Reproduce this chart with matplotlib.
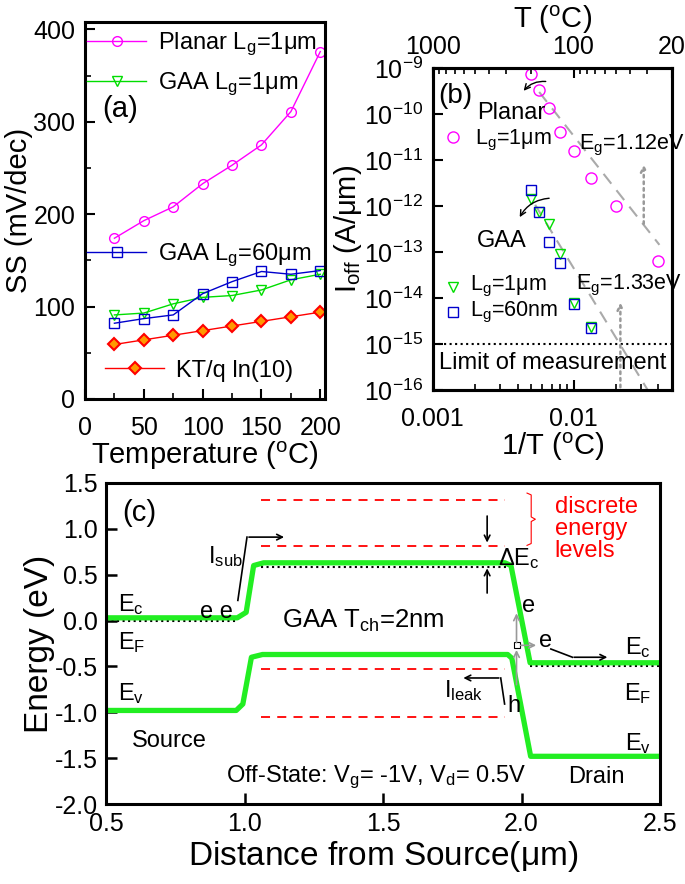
import numpy as np
import matplotlib
matplotlib.use('Agg')
from matplotlib import pyplot as plt

plt.rcParams['font.family'] = ['Liberation Sans', 'DejaVu Sans']
plt.rcParams['mathtext.fontset'] = 'custom'
plt.rcParams['mathtext.rm'] = 'Liberation Sans'
plt.rcParams['mathtext.it'] = 'Liberation Sans:italic'
plt.rcParams['mathtext.default'] = 'regular'
plt.rcParams['axes.linewidth'] = 2.2

# ---- (a) SS vs temperature ----
temp = [25, 50, 75, 100, 125, 150, 175, 200]
ss_planar = [174, 193, 208, 233, 253, 275, 311, 376]
ss_gaa_1um = [91, 93, 103, 110, 112, 118, 129, 135]
ss_gaa_60 = [82, 87, 91, 114, 127, 138, 135, 139]
ss_ideal = [59, 64, 69, 74, 79, 84, 89, 94]

# ---- (b) Ioff vs 1/T ----
inv_t_planar = [0.005, 0.0057, 0.0067, 0.008, 0.01, 0.0133, 0.02, 0.04]
ioff_planar = [7.5e-10, 3.3e-10, 1.35e-10, 4.2e-11, 1.6e-11, 4.1e-12, 1.0e-12, 6.5e-14]
inv_t_gaa = [0.005, 0.0057, 0.0067, 0.008, 0.01, 0.0133]
ioff_gaa_1um = [1.4e-12, 7.6e-13, 4.1e-13, 9.2e-14, 7.8e-15, 2.3e-15]
ioff_gaa_60 = [2.2e-12, 7.6e-13, 1.65e-13, 5.9e-14, 7.5e-15, 2.2e-15]
fit_planar_x = [0.0057, 0.0407]
fit_planar_y = [3.05e-10, 1.44e-13]
fit_gaa_x = [0.00534, 0.0336]
fit_gaa_y = [1.07e-12, 1e-16]
meas_limit = 1e-15
top_major_T = [1000, 100, 20]
top_minor_T = [900, 800, 700, 600, 500, 400, 300, 200, 90, 80, 70, 60, 50, 40, 30]

# ---- (c) band diagram ----
ec_x = [0.5, 0.974, 1.006, 1.033, 1.069, 1.94, 1.962, 2.031, 2.5]
ec_y = [0.03, 0.03, 0.09, 0.60, 0.63, 0.63, 0.60, -0.46, -0.46]
ev_x = [0.5, 0.97, 0.994, 1.025, 1.065, 1.95, 1.965, 2.033, 2.5]
ev_y = [-0.98, -0.98, -0.91, -0.40, -0.37, -0.37, -0.41, -1.48, -1.48]
ef_segments = [([0.5, 0.97], 0.0), ([1.06, 1.96], 0.58), ([2.03, 2.5], -0.50)]
levels = [1.31, 0.81, -0.53, -1.05]
levels_x = [1.06, 1.94]

fig = plt.figure(figsize=(6.85, 8.84), dpi=100)
W, H = 685.0, 884.0
def box(l, t, r, b):
    return [l / W, 1 - b / H, (r - l) / W, (b - t) / H]

tick_fs = 18
lab_fs = 21

# ================= (a)
ax1 = fig.add_axes(box(85, 22, 325, 399))
l1, = ax1.plot(temp, ss_planar, '-o', color='#ff00ff', lw=1, ms=7, mfc='none', mew=1)
l2, = ax1.plot(temp, ss_gaa_1um, '-v', color='#00dd00', lw=1, ms=7, mfc='none', mew=1)
l3, = ax1.plot(temp, ss_gaa_60, '-s', color='#0000cc', lw=1, ms=6.5, mfc='none', mew=1)
l4, = ax1.plot(temp, ss_ideal, '-D', color='#ff0000', lw=1, ms=6.5, mfc='#ff9900', mec='#ff0000', mew=1.5)
ax1.set_xlim(0, 204)
ax1.set_ylim(0, 408)
ax1.set_xticks([0, 50, 100, 150, 200])
ax1.set_xticks([25, 75, 125, 175], minor=True)
ax1.set_yticks([0, 100, 200, 300, 400])
ax1.set_yticks([50, 150, 250, 350], minor=True)
ax1.tick_params(direction='in', labelsize=tick_fs, length=7, width=1.5, top=False, right=False, pad=7)
ax1.tick_params(axis='x', pad=12)
ax1.tick_params(which='minor', direction='in', length=4, width=1.2)
ax1.set_xlabel('Temperature ($^{o}$C)', fontsize=lab_fs, labelpad=0)
ax1.set_ylabel('SS (mV/dec)', fontsize=lab_fs, labelpad=0)
leg_kw = dict(frameon=False, fontsize=17, handlelength=2.5, handletextpad=0.5,
              borderaxespad=0, borderpad=0, loc='center left')
lg1 = ax1.legend([l1, l2], ['Planar L$_g$=1$\\mu$m', 'GAA L$_g$=1$\\mu$m'],
                 bbox_to_anchor=(0.01, 0.888), labelspacing=0.55, **leg_kw)
ax1.add_artist(lg1)
lg2 = ax1.legend([l3], ['GAA L$_g$=60$\\mu$m'], bbox_to_anchor=(0.01, 0.38), **leg_kw)
ax1.add_artist(lg2)
ax1.legend([l4], ['KT/q ln(10)'], bbox_to_anchor=(0.085, 0.075), **leg_kw)
ax1.text(0.07, 0.77, '(a)', transform=ax1.transAxes, fontsize=21, va='center')

# ================= (b)
ax2 = fig.add_axes(box(432.7, 68.3, 672, 390))
ax2.set_xscale('log')
ax2.set_yscale('log')
ax2.plot(fit_planar_x, fit_planar_y, '--', color='#aaaaaa', lw=1.5, dashes=(6, 4))
ax2.plot(fit_gaa_x, fit_gaa_y, '--', color='#aaaaaa', lw=1.5, dashes=(6, 4))
ax2.plot(inv_t_planar, ioff_planar, 'o', color='#ff00ff', ms=8, mfc='none', mew=1)
ax2.plot(inv_t_gaa, ioff_gaa_1um, 'v', color='#00dd00', ms=7.5, mfc='none', mew=1)
ax2.plot(inv_t_gaa, ioff_gaa_60, 's', color='#0000cc', ms=7, mfc='none', mew=1)
ax2.axhline(meas_limit, color='black', ls=':', lw=1.5)
ax2.set_xlim(0.001, 0.05)
ax2.set_ylim(1e-16, 1e-9)
ax2.set_yticks([10.0 ** k for k in range(-16, -8)])
ax2.yaxis.set_minor_locator(matplotlib.ticker.NullLocator())
ax2.set_xticks([0.001, 0.01])
ax2.set_xticklabels(['0.001', '0.01'])
ax2.tick_params(direction='in', labelsize=tick_fs, length=7, width=1.5, right=False, top=False, pad=7)
ax2.tick_params(axis='x', pad=12)
ax2.tick_params(which='minor', direction='in', length=4, width=1.2)
ax2.xaxis.set_minor_formatter(matplotlib.ticker.NullFormatter())
ax2.set_xlabel('1/T ($^{o}$C)', fontsize=lab_fs, labelpad=0)
ax2.set_ylabel('I$_{off}$ (A/$\\mu$m)', fontsize=lab_fs, labelpad=0)

ax2t = ax2.twiny()
ax2t.set_xscale('log')
ax2t.set_xlim(ax2.get_xlim())
ax2t.set_xticks([1.0 / t for t in top_major_T])
ax2t.set_xticklabels([str(t) for t in top_major_T])
ax2t.set_xticks([1.0 / t for t in top_minor_T], minor=True)
ax2t.xaxis.set_minor_formatter(matplotlib.ticker.NullFormatter())
ax2t.tick_params(direction='in', labelsize=tick_fs, length=7, width=1.5, pad=7)
ax2t.tick_params(which='minor', direction='in', length=4, width=1.2)
ax2t.set_xlabel('T ($^{o}$C)', fontsize=lab_fs, labelpad=5)

gray = '#999999'
ax2.annotate('', xy=(0.0315, 9.3e-12), xytext=(0.0315, 3.6e-13),
             arrowprops=dict(arrowstyle='->', color=gray, ls=':', lw=1.8))
ax2.annotate('', xy=(0.0215, 9.2e-15), xytext=(0.0215, 1e-16),
             arrowprops=dict(arrowstyle='->', color=gray, ls=':', lw=1.8))
ax2.annotate('', xy=(0.0043, 2.9e-10), xytext=(0.00664, 5.1e-10),
             arrowprops=dict(arrowstyle='->', color='black', lw=1, connectionstyle='arc3,rad=0.3'))
ax2.annotate('', xy=(0.00406, 5.1e-13), xytext=(0.00702, 1.5e-12),
             arrowprops=dict(arrowstyle='->', color='black', lw=1, connectionstyle='arc3,rad=0.3'))
bfs = 17
sfs = 15.5
tr = ax2.transAxes
ax2.text(0.025, 0.915, '(b)', transform=tr, fontsize=20, va='center')
ax2.text(0.185, 0.862, 'Planar', transform=tr, fontsize=bfs, va='center')
ax2.plot([0.085], [0.787], 'o', color='#ff00ff', ms=8, mfc='none', mew=1, transform=tr)
ax2.text(0.177, 0.775, 'L$_g$=1$\\mu$m', transform=tr, fontsize=sfs, va='center')
ax2.text(0.61, 0.761, 'E$_g$=1.12eV', transform=tr, fontsize=15.5, va='center')
ax2.text(0.185, 0.463, 'GAA', transform=tr, fontsize=bfs, va='center')
ax2.plot([0.086], [0.319], 'v', color='#00dd00', ms=7.5, mfc='none', mew=1, transform=tr)
ax2.text(0.156, 0.322, 'L$_g$=1$\\mu$m', transform=tr, fontsize=sfs, va='center')
ax2.plot([0.086], [0.243], 's', color='#0000cc', ms=7, mfc='none', mew=1, transform=tr)
ax2.text(0.156, 0.24, 'L$_g$=60nm', transform=tr, fontsize=sfs, va='center')
ax2.text(0.6, 0.326, 'E$_g$=1.33eV', transform=tr, fontsize=15.5, va='center')
ax2.text(0.5, 0.084, 'Limit of measurement', transform=tr, fontsize=bfs, va='center', ha='center')

# ================= (c)
ax3 = fig.add_axes(box(106, 483, 660, 804))
for ys in levels:
    ax3.plot(levels_x, [ys, ys], '--', color='#ff0000', lw=1.3, dashes=(5, 4))
for xs, yv in ef_segments:
    ax3.plot(xs, [yv, yv], ':', color='black', lw=1.5)
ax3.plot(ec_x, ec_y, '-', color='#22ee22', lw=3.8, solid_joinstyle='round')
ax3.plot(ev_x, ev_y, '-', color='#22ee22', lw=3.8, solid_joinstyle='round')
ax3.set_xlim(0.5, 2.5)
ax3.set_ylim(-2.0, 1.5)
ax3.set_xticks([0.5, 1.0, 1.5, 2.0, 2.5])
ax3.set_yticks([-2.0, -1.5, -1.0, -0.5, 0.0, 0.5, 1.0, 1.5])
ax3.yaxis.set_major_formatter(matplotlib.ticker.FormatStrFormatter('%.1f'))
ax3.tick_params(direction='in', labelsize=tick_fs, length=8, width=1.8, top=False, right=False, pad=6)
ax3.set_xlabel('Distance from Source($\\mu$m)', fontsize=24, labelpad=2)
ax3.set_ylabel('Energy (eV)', fontsize=24, labelpad=0)

cfs = 17
ax3.text(0.56, 1.17, '(c)', fontsize=21, va='center')
ax3.text(0.545, 0.18, 'E$_c$', fontsize=cfs, va='center')
ax3.text(0.545, -0.24, 'E$_F$', fontsize=cfs, va='center')
ax3.text(0.545, -0.80, 'E$_v$', fontsize=cfs, va='center')
ax3.text(0.898, 0.09, 'e e', fontsize=cfs, va='center', ha='center')
ax3.text(0.93, 0.70, 'I$_{sub}$', fontsize=cfs, va='center', ha='center')
ax3.plot([0.976, 1.009], [0.22, 0.91], color='black', lw=1.2)
ax3.annotate('', xy=(1.153, 0.91), xytext=(1.006, 0.91),
             arrowprops=dict(arrowstyle='->', color='black', lw=1.2))
ax3.text(1.43, 0.0, 'GAA T$_{ch}$=2nm', fontsize=18.5, va='center', ha='center')
ax3.annotate('', xy=(1.876, 0.82), xytext=(1.876, 1.17),
             arrowprops=dict(arrowstyle='->', color='black', lw=1.2))
ax3.annotate('', xy=(1.876, 0.60), xytext=(1.876, 0.27),
             arrowprops=dict(arrowstyle='->', color='black', lw=1.2))
ax3.text(1.99, 0.68, '$\\Delta$E$_c$', fontsize=cfs, va='center', ha='center')
brace_x = [2.02, 2.035, 2.035, 2.05, 2.035, 2.035, 2.02]
brace_y = [1.39, 1.37, 1.13, 1.105, 1.08, 0.84, 0.82]
ax3.plot(brace_x, brace_y, color='#ff0000', lw=0.8)
ax3.text(2.12, 1.0, 'discrete\nenergy\nlevels', fontsize=cfs, color='#ff0000', va='center', linespacing=1.0)
ax3.annotate('', xy=(1.982, 0.11), xytext=(1.982, -0.27),
             arrowprops=dict(arrowstyle='->', color=gray, lw=1.2))
ax3.annotate('', xy=(1.982, -0.29), xytext=(1.982, -0.73),
             arrowprops=dict(arrowstyle='->', color=gray, lw=1.2))
ax3.annotate('', xy=(2.063, -0.27), xytext=(1.987, -0.27),
             arrowprops=dict(arrowstyle='->', color=gray, lw=1.2))
ax3.plot([1.985], [-0.27], 's', ms=5, mfc='white', mec='black', mew=0.8)
ax3.text(2.026, 0.16, 'e', fontsize=cfs, va='center', ha='center')
ax3.text(2.087, -0.225, 'e', fontsize=cfs, va='center', ha='center')
ax3.plot([2.106, 2.184], [-0.31, -0.40], color='black', lw=1.2)
ax3.annotate('', xy=(2.32, -0.40), xytext=(2.18, -0.40),
             arrowprops=dict(arrowstyle='->', color='black', lw=1.2))
ax3.plot([1.939, 1.925], [-0.91, -0.626], color='black', lw=1.2)
ax3.annotate('', xy=(1.78, -0.626), xytext=(1.928, -0.626),
             arrowprops=dict(arrowstyle='->', color='black', lw=1.2))
ax3.text(1.72, -0.76, 'I$_{leak}$', fontsize=cfs, va='center')
ax3.text(1.973, -0.93, 'h', fontsize=cfs, va='center', ha='center')
ax3.text(2.42, -0.29, 'E$_c$', fontsize=cfs, va='center', ha='center')
ax3.text(2.42, -0.80, 'E$_F$', fontsize=cfs, va='center', ha='center')
ax3.text(2.42, -1.34, 'E$_v$', fontsize=cfs, va='center', ha='center')
ax3.text(0.73, -1.31, 'Source', fontsize=cfs, va='center', ha='center')
ax3.text(1.476, -1.71, 'Off-State: V$_g$= -1V, V$_d$= 0.5V', fontsize=cfs, va='center', ha='center')
ax3.text(2.27, -1.71, 'Drain', fontsize=cfs, va='center', ha='center')

fig.savefig('out.png', dpi=100)
